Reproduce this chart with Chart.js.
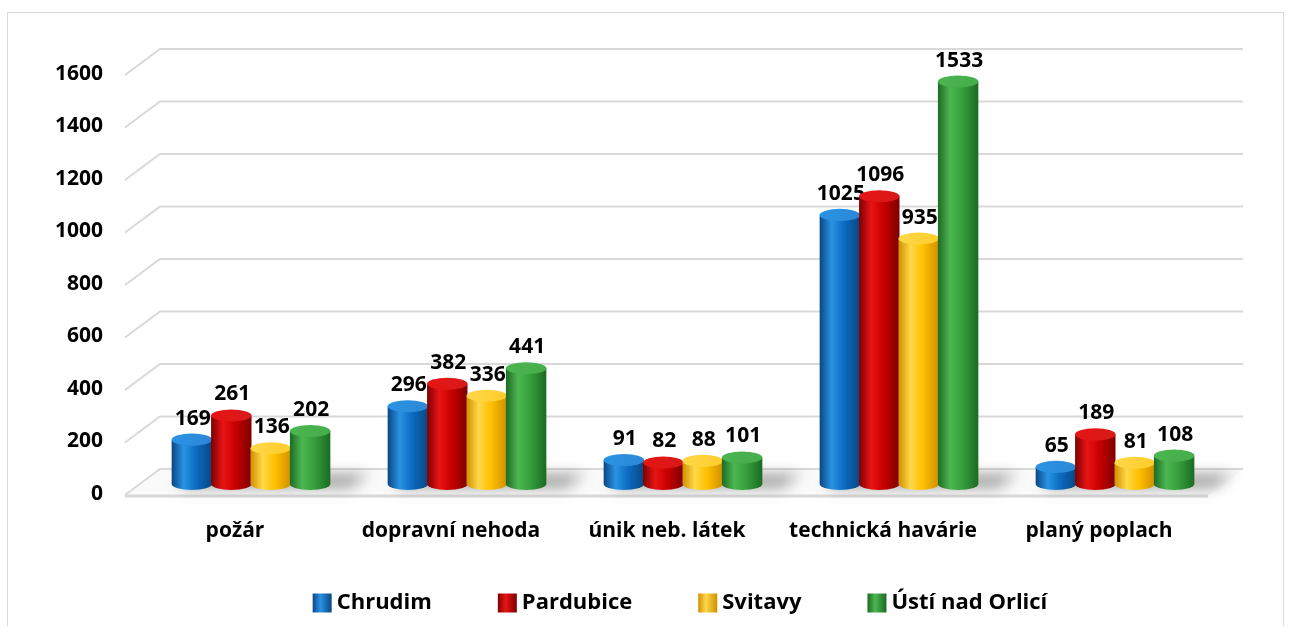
<!DOCTYPE html>
<html>
<head>
<meta charset="utf-8">
<script src="https://cdn.jsdelivr.net/npm/chart.js@4"></script>
<style>
  body { margin: 0; background: #fff; overflow: hidden; }
  #ramecek { position: absolute; left: 7px; top: 12px; width: 1275px; height: 700px; border: 1px solid #d9d9d9; }
  #graf { position: absolute; left: 0; top: 0; }
</style>
</head>
<body>
<div id="ramecek"></div>
<canvas id="graf" width="1293" height="626"></canvas>
<script>
'use strict'

// kategorie udalosti a pocty podle okresu
const kategorie  = ['požár', 'dopravní nehoda', 'únik neb. látek', 'technická havárie', 'planý poplach']
const okresy     = ['Chrudim', 'Pardubice', 'Svitavy', 'Ústí nad Orlicí']
const chrudim    = [169, 296, 91, 1025, 65]
const pardubice  = [261, 382, 82, 1096, 189]
const svitavy    = [136, 336, 88, 935, 81]
const ustiOrlici = [202, 441, 101, 1533, 108]
const osaY       = [0, 200, 400, 600, 800, 1000, 1200, 1400, 1600]

// barvy valcu: tmava hrana, svetly odlesk, zakladni, vicko
const barvy = [
  { tmava: '#0a4684', svetla: '#2a93e4', zaklad: '#0b6cc2', vicko: '#2d87d6' },
  { tmava: '#7e0000', svetla: '#e81414', zaklad: '#c80000', vicko: '#d61a1a' },
  { tmava: '#d08f00', svetla: '#ffd84a', zaklad: '#ffc000', vicko: '#ffcc2a' },
  { tmava: '#1c6a22', svetla: '#4cb651', zaklad: '#35a03b', vicko: '#45ad4a' }
]

const pismo = "'Open Sans', 'Lato', sans-serif"

const plugin3d = {
  id: 'valce',
  beforeDatasetsDraw(chart) {
    const ctx = chart.ctx
    const y = chart.scales.y
    const a = chart.chartArea
    const y0 = y.getPixelForValue(0)
    ctx.save()
    // podlaha
    ctx.fillStyle = '#fafafa'
    ctx.beginPath()
    ctx.moveTo(a.left - 18, y0 + 12)
    ctx.lineTo(a.left + 17, y0 - 14)
    ctx.lineTo(a.right + 20, y0 - 14)
    ctx.lineTo(a.right - 15, y0 + 12)
    ctx.closePath()
    ctx.fill()
    ctx.strokeStyle = '#d9d9d9'
    ctx.lineWidth = 3
    ctx.beginPath()
    ctx.moveTo(a.left - 18, y0 + 12)
    ctx.lineTo(a.right - 15, y0 + 12)
    ctx.stroke()
    // mrizka
    ctx.lineWidth = 2
    osaY.forEach(v => {
      const py = y.getPixelForValue(v)
      ctx.beginPath()
      ctx.moveTo(a.left - 18, py + 11)
      ctx.lineTo(a.left + 17, py - 15)
      ctx.lineTo(a.right + 20, py - 15)
      ctx.stroke()
    })
    // stiny pod skupinami
    const prvni = chart.getDatasetMeta(0).data
    const posledni = chart.getDatasetMeta(okresy.length - 1).data
    ctx.filter = 'blur(7px)'
    ctx.fillStyle = 'rgba(90,90,90,0.55)'
    prvni.forEach((bar, i) => {
      const l = bar.x - bar.width / 2
      const r = posledni[i].x + posledni[i].width / 2
      ctx.beginPath()
      ctx.moveTo(l + 5, y0 + 4)
      ctx.lineTo(l + 20, y0 - 10)
      ctx.lineTo(r + 40, y0 - 10)
      ctx.lineTo(r + 20, y0 + 4)
      ctx.closePath()
      ctx.fill()
    })
    ctx.restore()
  },
  beforeDatasetDraw() {
    return false
  },
  afterDatasetsDraw(chart) {
    const ctx = chart.ctx
    ctx.save()
    kategorie.forEach((k, i) => {
      okresy.forEach((o, d) => {
        const bar = chart.getDatasetMeta(d).data[i]
        const c = barvy[d]
        const w = bar.width + 1
        const l = bar.x - w / 2
        const r = bar.x + w / 2
        const ry = w * 0.15
        const g = ctx.createLinearGradient(l, 0, r, 0)
        g.addColorStop(0, c.tmava)
        g.addColorStop(0.3, c.svetla)
        g.addColorStop(0.6, c.zaklad)
        g.addColorStop(1, c.tmava)
        ctx.fillStyle = g
        ctx.beginPath()
        ctx.moveTo(l, bar.y)
        ctx.lineTo(l, bar.base)
        ctx.ellipse(bar.x, bar.base, w / 2, ry, 0, Math.PI, 0, true)
        ctx.lineTo(r, bar.y)
        ctx.closePath()
        ctx.fill()
        const gv = ctx.createLinearGradient(l, bar.y - ry, r, bar.y + ry)
        gv.addColorStop(0, c.svetla)
        gv.addColorStop(1, c.vicko)
        ctx.fillStyle = gv
        ctx.beginPath()
        ctx.ellipse(bar.x, bar.y, w / 2, ry, 0, 0, Math.PI * 2)
        ctx.fill()
        // popisek hodnoty
        ctx.fillStyle = '#000'
        ctx.font = 'bold 21px ' + pismo
        ctx.textAlign = 'center'
        ctx.textBaseline = 'middle'
        ctx.fillText(chart.data.datasets[d].data[i], bar.x + 1, bar.y - 21)
      })
    })
    ctx.restore()
  },
  afterDraw(chart) {
    // legenda
    const ctx = chart.ctx
    ctx.save()
    ctx.font = 'bold 22px ' + pismo
    ctx.textBaseline = 'middle'
    ctx.textAlign = 'left'
    const box = 19, mezera = 5, odstup = 66
    const sirky = okresy.map(o => box + mezera + ctx.measureText(o).width)
    const celkem = sirky.reduce((s, x) => s + x, 0) + odstup * (okresy.length - 1)
    let x = (chart.chartArea.left + chart.chartArea.right) / 2 - 3 - celkem / 2
    const yl = 603
    okresy.forEach((o, d) => {
      const c = barvy[d]
      const g = ctx.createLinearGradient(x, 0, x + box, 0)
      g.addColorStop(0, c.tmava)
      g.addColorStop(0.4, c.svetla)
      g.addColorStop(1, c.tmava)
      ctx.fillStyle = g
      ctx.fillRect(x, yl - box / 2, box, box)
      ctx.fillStyle = '#000'
      ctx.fillText(o, x + box + mezera, yl)
      x += sirky[d] + odstup
    })
    ctx.restore()
  }
}

const ctx = document.getElementById('graf').getContext('2d')
const radky = [chrudim, pardubice, svitavy, ustiOrlici]

new Chart(ctx, {
  type: 'bar',
  data: {
    labels: kategorie,
    datasets: okresy.map((o, d) => ({
      label: o,
      data: radky[d],
      backgroundColor: barvy[d].zaklad,
      categoryPercentage: 0.73,
      barPercentage: 1.0
    }))
  },
  options: {
    responsive: false,
    animation: false,
    layout: { padding: { top: 64, right: 70, left: 0, bottom: 0 } },
    plugins: { legend: { display: false }, tooltip: { enabled: false } },
    scales: {
      x: {
        grid: { display: false, drawTicks: false },
        border: { display: false },
        ticks: { color: '#000', font: { family: pismo, size: 21, weight: 'bold' }, padding: 34, labelOffset: -16 },
        afterFit: (osa) => { osa.height = 142 }
      },
      y: {
        min: 0,
        max: 1600,
        grid: { display: false, drawTicks: false },
        border: { display: false },
        afterBuildTicks: (osa) => { osa.ticks = osaY.map(v => ({ value: v })) },
        ticks: {
          color: '#000',
          font: { family: pismo, size: 21, weight: 'bold' },
          padding: 40,
          labelOffset: 10,
          callback: (v) => String(v)
        },
        afterFit: (osa) => { osa.width = 143 }
      }
    }
  },
  plugins: [plugin3d]
})
</script>
</body>
</html>
